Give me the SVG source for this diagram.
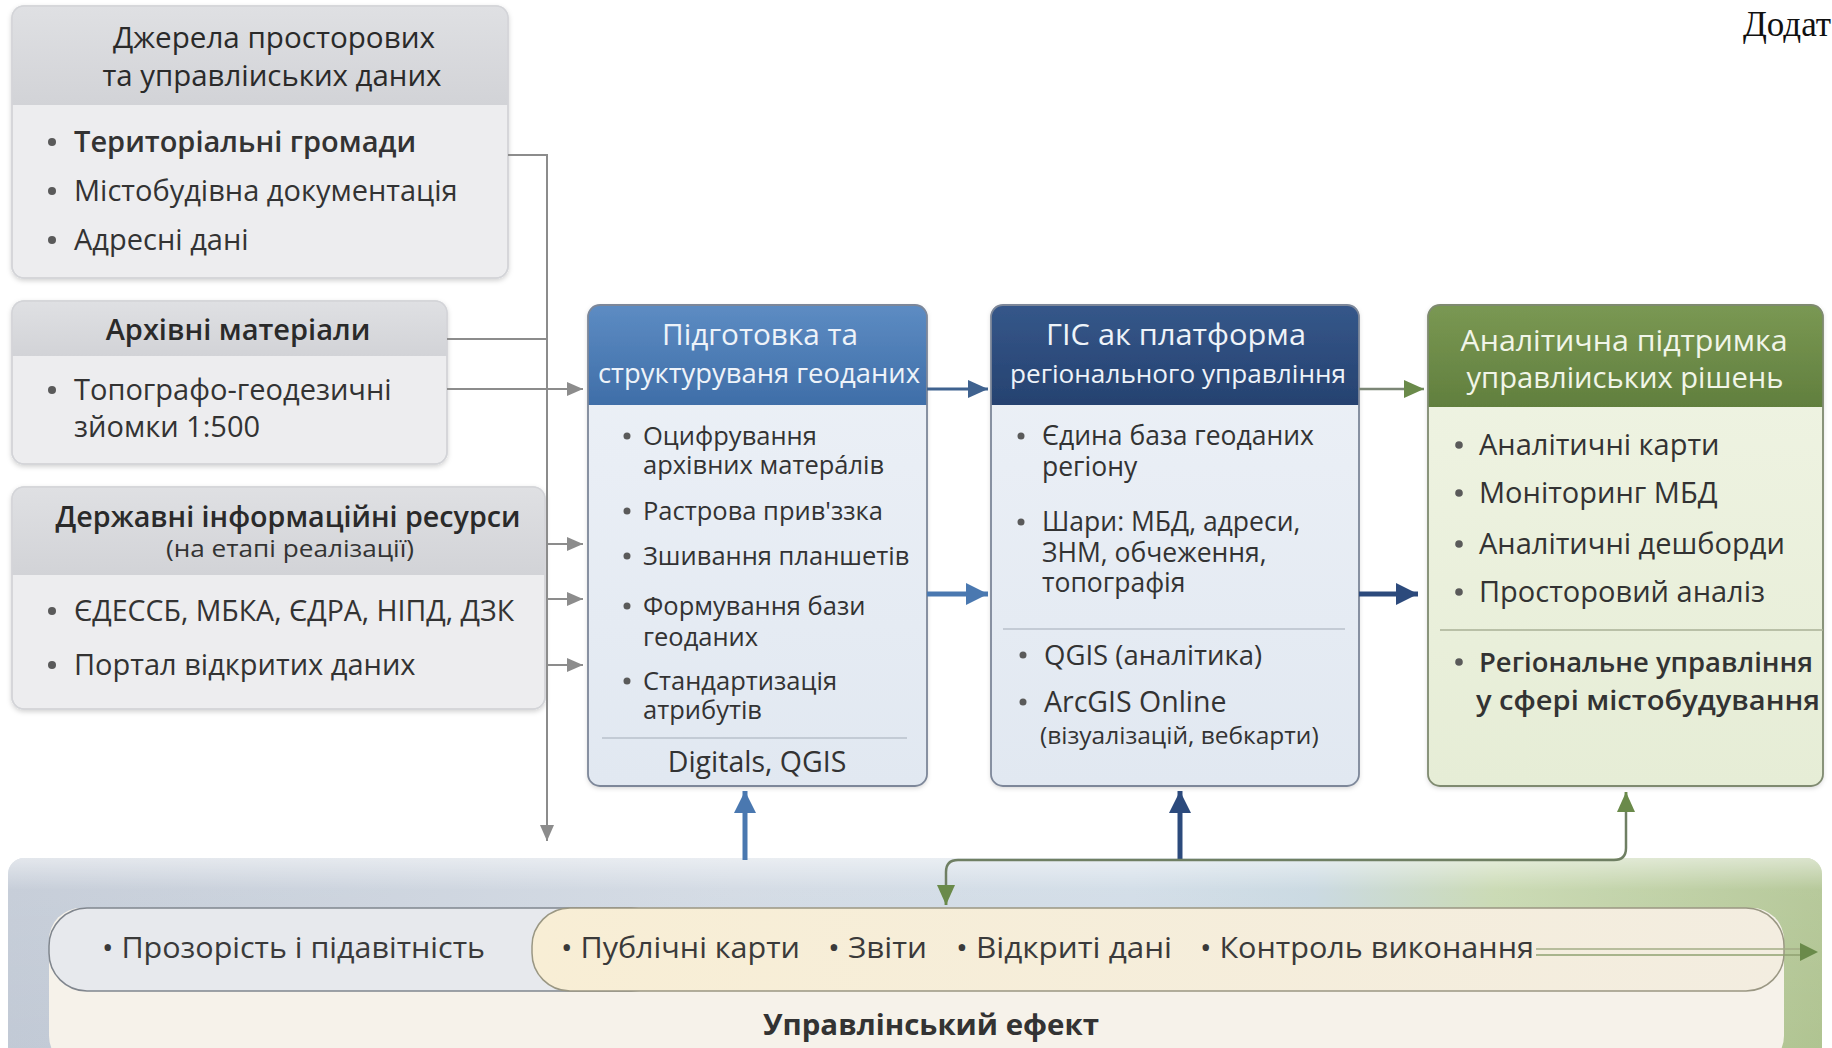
<svg xmlns="http://www.w3.org/2000/svg" width="1832" height="1048" viewBox="0 0 1832 1048">
<defs>
<style>
text{font-family:"Open Sans","Noto Sans",sans-serif;fill:#333;}
.t29{font-size:29px;}
.tc{font-size:25.5px;}
.tg{font-size:26.5px;}
.ta{font-size:29px;}
.hd{fill:#eef3f9;text-anchor:middle;}
.gt{font-size:29px;text-anchor:middle;fill:#2a2a2a;}
.sb{font-weight:600;}
.pill{font-size:30px;fill:#3a3a3a;}
.dot{fill:#5a5a5a;}
.gbox{fill:#ededef;stroke:#d6d7da;stroke-width:1.5;}
.gout{fill:none;stroke:#d3d4d8;stroke-width:1.5;}
.cout{fill:none;stroke:#7d8799;stroke-width:1.8;}
.gline{fill:none;stroke:#8c8c8c;stroke-width:2;}
.sep{stroke:#b9c0cb;stroke-width:1.5;}
</style>
<filter id="sh" x="-5%" y="-5%" width="110%" height="115%">
<feDropShadow dx="0" dy="2" stdDeviation="2.5" flood-color="#000" flood-opacity="0.18"/>
</filter>
<linearGradient id="gHead" x1="0" y1="0" x2="0" y2="1"><stop offset="0" stop-color="#dfe0e3"/><stop offset="1" stop-color="#d2d3d7"/></linearGradient>
<linearGradient id="bHead" x1="0" y1="0" x2="0" y2="1"><stop offset="0" stop-color="#5d8cc3"/><stop offset="1" stop-color="#3f6ea8"/></linearGradient>
<linearGradient id="nHead" x1="0" y1="0" x2="0" y2="1"><stop offset="0" stop-color="#35578a"/><stop offset="1" stop-color="#264270"/></linearGradient>
<linearGradient id="vHead" x1="0" y1="0" x2="0" y2="1"><stop offset="0" stop-color="#7a9853"/><stop offset="1" stop-color="#617f3e"/></linearGradient>
<linearGradient id="bBody" x1="0" y1="0" x2="0" y2="1"><stop offset="0" stop-color="#edf1f7"/><stop offset="1" stop-color="#e1e8f1"/></linearGradient>
<linearGradient id="vBody" x1="0" y1="0" x2="0" y2="1"><stop offset="0" stop-color="#f0f4e4"/><stop offset="1" stop-color="#e6edd6"/></linearGradient>
<linearGradient id="band" x1="0" y1="0" x2="1" y2="0">
<stop offset="0" stop-color="#c1c9d5"/><stop offset="0.4" stop-color="#d0d8e2"/><stop offset="0.62" stop-color="#cfdbe6"/><stop offset="0.72" stop-color="#c6d6df"/><stop offset="0.82" stop-color="#c6d7ae"/><stop offset="1" stop-color="#afc390"/>
</linearGradient>
<linearGradient id="bandTop" x1="0" y1="0" x2="0" y2="1"><stop offset="0" stop-color="#fff" stop-opacity="0.55"/><stop offset="0.15" stop-color="#fff" stop-opacity="0.1"/><stop offset="1" stop-color="#fff" stop-opacity="0"/></linearGradient>
<linearGradient id="cream" x1="0" y1="0" x2="1" y2="0"><stop offset="0" stop-color="#f8eed5"/><stop offset="1" stop-color="#f3ede0"/></linearGradient>
<marker id="aGray" markerUnits="userSpaceOnUse" markerWidth="16" markerHeight="16" viewBox="0 0 16 16" refX="16" refY="8" orient="auto"><path d="M0,1 L16,8 L0,15 Z" fill="#8c8c8c"/></marker>
<marker id="aDark" markerUnits="userSpaceOnUse" markerWidth="20" markerHeight="20" viewBox="0 0 20 20" refX="20" refY="10" orient="auto"><path d="M0,1 L20,10 L0,19 Z" fill="#3f628f"/></marker>
<marker id="aBlue" markerUnits="userSpaceOnUse" markerWidth="22" markerHeight="24" viewBox="0 0 22 24" refX="22" refY="12" orient="auto"><path d="M0,1 L22,12 L0,23 Z" fill="#4a78b0"/></marker>
<marker id="aNavy" markerUnits="userSpaceOnUse" markerWidth="22" markerHeight="24" viewBox="0 0 22 24" refX="22" refY="12" orient="auto"><path d="M0,1 L22,12 L0,23 Z" fill="#2c4a7c"/></marker>
<marker id="aGreen" markerUnits="userSpaceOnUse" markerWidth="20" markerHeight="20" viewBox="0 0 20 20" refX="20" refY="10" orient="auto"><path d="M0,1 L20,10 L0,19 Z" fill="#6a8a4a"/></marker>
</defs>
<rect width="1832" height="1048" fill="#fff"/>

<!-- bottom band -->
<g id="effect">
<rect x="8" y="858" width="1814" height="210" rx="16" fill="url(#band)"/>
<rect x="8" y="858" width="1814" height="210" rx="16" fill="url(#bandTop)"/>
<rect x="49" y="908" width="1735" height="160" rx="32" fill="#f6f2ea"/>
<rect x="49" y="908" width="620" height="83" rx="38" fill="#e7e9ed" stroke="#80868e" stroke-width="1.5"/>
<rect x="532" y="908" width="1252" height="83" rx="38" fill="url(#cream)" stroke="#9a9783" stroke-width="1.5"/>
<text class="pill" x="102" y="958" textLength="383" lengthAdjust="spacingAndGlyphs">• Прозорість і підавітність</text>
<text class="pill" x="561" y="958" textLength="239" lengthAdjust="spacingAndGlyphs">• Публічні карти</text>
<text class="pill" x="828" y="958" textLength="99" lengthAdjust="spacingAndGlyphs">• Звіти</text>
<text class="pill" x="956" y="958" textLength="216" lengthAdjust="spacingAndGlyphs">• Відкриті дані</text>
<text class="pill" x="1200" y="958" textLength="334" lengthAdjust="spacingAndGlyphs">• Контроль виконання</text>
<text x="931" y="1035" font-size="29" font-weight="700" text-anchor="middle" fill="#333" textLength="336" lengthAdjust="spacingAndGlyphs">Управлінський ефект</text>
</g>

<!-- left source boxes -->
<g id="src1">
<g filter="url(#sh)">
<rect class="gbox" x="12" y="6" width="496" height="272" rx="12"/>
<path d="M12,105 V18 Q12,6 24,6 H496 Q508,6 508,18 V105 Z" fill="url(#gHead)"/>
</g>
<rect class="gout" x="12" y="6" width="496" height="272" rx="12"/>
<text class="gt" x="274" y="48" font-weight="500" textLength="322" lengthAdjust="spacingAndGlyphs">Джерела просторових</text>
<text class="gt" x="272" y="86" font-weight="500" textLength="339" lengthAdjust="spacingAndGlyphs">та управліиських даних</text>
<circle class="dot" cx="52" cy="142" r="4"/><text class="t29 sb" x="74" y="152">Територіальні громади</text>
<circle class="dot" cx="52" cy="191" r="4"/><text class="t29" x="74" y="201">Містобудівна документація</text>
<circle class="dot" cx="52" cy="240" r="4"/><text class="t29" x="74" y="250">Адресні дані</text>
</g>

<g id="src2">
<g filter="url(#sh)">
<rect class="gbox" x="12" y="301" width="435" height="163" rx="12"/>
<path d="M12,356 V313 Q12,301 24,301 H435 Q447,301 447,313 V356 Z" fill="url(#gHead)"/>
</g>
<rect class="gout" x="12" y="301" width="435" height="163" rx="12"/>
<text class="gt sb" x="238" y="340">Архівні матеріали</text>
<circle class="dot" cx="52" cy="390" r="4"/><text class="t29" x="74" y="400">Топографо-геодезичні</text>
<text class="t29" x="74" y="437">зйомки 1:500</text>
</g>

<g id="src3">
<g filter="url(#sh)">
<rect class="gbox" x="12" y="487" width="533" height="222" rx="12"/>
<path d="M12,575 V499 Q12,487 24,487 H533 Q545,487 545,499 V575 Z" fill="url(#gHead)"/>
</g>
<rect class="gout" x="12" y="487" width="533" height="222" rx="12"/>
<text class="gt sb" x="288" y="527" textLength="465" lengthAdjust="spacingAndGlyphs">Державні інформаційні ресурси</text>
<text x="290" y="557" font-size="24" text-anchor="middle" fill="#444" textLength="248" lengthAdjust="spacingAndGlyphs">(на етапі реалізації)</text>
<circle class="dot" cx="52" cy="611" r="4"/><text x="74" y="621" font-size="28.5">ЄДЕССБ, МБКА, ЄДРА, НІПД, ДЗК</text>
<circle class="dot" cx="52" cy="665" r="4"/><text class="t29" x="74" y="675">Портал відкритих даних</text>
</g>

<!-- process boxes -->
<g id="prep">
<g filter="url(#sh)">
<rect x="588" y="305" width="339" height="481" rx="12" fill="url(#bBody)"/>
<path d="M588,405 V317 Q588,305 600,305 H915 Q927,305 927,317 V405 Z" fill="url(#bHead)"/>
</g>
<rect class="cout" x="588" y="305" width="339" height="481" rx="12"/>
<text class="hd" x="760" y="345" font-size="29" textLength="196" lengthAdjust="spacingAndGlyphs">Підготовка та</text>
<text class="hd" x="759" y="383" font-size="26.5" textLength="322" lengthAdjust="spacingAndGlyphs">структуруваня геоданих</text>
<circle class="dot" cx="627" cy="436" r="3.5"/><text class="tc" x="643" y="445">Оцифрування</text>
<text class="tc" x="643" y="474">архівних матерáлів</text>
<circle class="dot" cx="627" cy="511" r="3.5"/><text class="tc" x="643" y="520">Растрова прив'ззка</text>
<circle class="dot" cx="627" cy="556" r="3.5"/><text class="tc" x="643" y="565">Зшивання планшетів</text>
<circle class="dot" cx="627" cy="606" r="3.5"/><text class="tc" x="643" y="615">Формування бази</text>
<text class="tc" x="643" y="646">геоданих</text>
<circle class="dot" cx="627" cy="681" r="3.5"/><text class="tc" x="643" y="690">Стандартизація</text>
<text class="tc" x="643" y="719">атрибутів</text>
<line class="sep" x1="602" y1="738" x2="907" y2="738"/>
<text x="757" y="772" font-size="28.5" text-anchor="middle">Digitals, QGIS</text>
</g>

<g id="gis">
<g filter="url(#sh)">
<rect x="991" y="305" width="368" height="481" rx="12" fill="url(#bBody)"/>
<path d="M991,405 V317 Q991,305 1003,305 H1347 Q1359,305 1359,317 V405 Z" fill="url(#nHead)"/>
</g>
<rect class="cout" x="991" y="305" width="368" height="481" rx="12"/>
<text class="hd" x="1176" y="345" font-size="29.5" textLength="260" lengthAdjust="spacingAndGlyphs">ГІС ак платформа</text>
<text class="hd" x="1178" y="383" font-size="26" textLength="336" lengthAdjust="spacingAndGlyphs">регіонального управління</text>
<circle class="dot" cx="1021" cy="436" r="3.5"/><text class="tg" x="1042" y="445">Єдина база геоданих</text>
<text class="tg" x="1042" y="476">регіону</text>
<circle class="dot" cx="1021" cy="522" r="3.5"/><text class="tg" x="1042" y="531">Шари: МБД, адреси,</text>
<text class="tg" x="1042" y="562">ЗНМ, обчеження,</text>
<text class="tg" x="1042" y="592">топографія</text>
<line class="sep" x1="1003" y1="629" x2="1345" y2="629"/>
<circle class="dot" cx="1023" cy="655" r="3.5"/><text x="1044" y="665" font-size="27.5">QGIS (аналітика)</text>
<circle class="dot" cx="1023" cy="702" r="3.5"/><text x="1044" y="712" font-size="28.5">ArcGIS Online</text>
<text x="1040" y="744" font-size="24.5">(візуалізацій, вебкарти)</text>
</g>

<g id="analytics">
<g filter="url(#sh)">
<rect x="1428" y="305" width="395" height="481" rx="12" fill="url(#vBody)"/>
<path d="M1428,407 V317 Q1428,305 1440,305 H1811 Q1823,305 1823,317 V407 Z" fill="url(#vHead)"/>
</g>
<rect x="1428" y="305" width="395" height="481" rx="12" fill="none" stroke="#7f8a70" stroke-width="1.8"/>
<text class="hd" x="1624" y="351" font-size="30" fill="#f1f5e8" style="fill:#f1f5e8" textLength="327" lengthAdjust="spacingAndGlyphs">Аналітична підтримка</text>
<text class="hd" x="1625" y="388" font-size="30" fill="#f1f5e8" style="fill:#f1f5e8" textLength="317" lengthAdjust="spacingAndGlyphs">управліиських рішень</text>
<circle class="dot" cx="1459" cy="445" r="3.8"/><text class="ta" x="1479" y="455">Аналітичні карти</text>
<circle class="dot" cx="1459" cy="493" r="3.8"/><text class="ta" x="1479" y="503">Моніторинг МБД</text>
<circle class="dot" cx="1459" cy="544" r="3.8"/><text class="ta" x="1479" y="554">Аналітичні дешборди</text>
<circle class="dot" cx="1459" cy="592" r="3.8"/><text class="ta" x="1479" y="602">Просторовий аналіз</text>
<line x1="1440" y1="630" x2="1823" y2="630" stroke="#a9b196" stroke-width="1.5"/>
<circle class="dot" cx="1459" cy="662" r="3.8"/><text class="sb" x="1479" y="672" font-size="26.5" textLength="334" lengthAdjust="spacingAndGlyphs">Регіональне управління</text>
<text class="sb" x="1476" y="710" font-size="26.5" textLength="344" lengthAdjust="spacingAndGlyphs">у сфері містобудування</text>
</g>

<text x="1743" y="36" font-size="35" style="font-family:'Liberation Serif',serif;fill:#111">Додат</text>

<!-- connectors -->
<g id="connectors">
<path class="gline" d="M508,155 H547 V841" marker-end="url(#aGray)"/>
<path class="gline" d="M447,339 H547"/>
<path class="gline" d="M447,389 H583" marker-end="url(#aGray)"/>
<path class="gline" d="M547,544 H583" marker-end="url(#aGray)"/>
<path class="gline" d="M547,599 H583" marker-end="url(#aGray)"/>
<path class="gline" d="M547,665 H583" marker-end="url(#aGray)"/>
<path d="M927,389 H988" fill="none" stroke="#3f628f" stroke-width="3" marker-end="url(#aDark)"/>
<path d="M927,594 H988" fill="none" stroke="#4a78b0" stroke-width="5" marker-end="url(#aBlue)"/>
<path d="M1359,389 H1424" fill="none" stroke="#7b8676" stroke-width="2.5" marker-end="url(#aGreen)"/>
<path d="M1359,594 H1418" fill="none" stroke="#2c4a7c" stroke-width="5" marker-end="url(#aNavy)"/>
<path d="M745,860 V791" fill="none" stroke="#4a78b0" stroke-width="5" marker-end="url(#aBlue)"/>
<path d="M1180,860 V791" fill="none" stroke="#2c4a7c" stroke-width="5" marker-end="url(#aNavy)"/>
<path d="M1626,792 V848 Q1626,860 1614,860 H958 Q946,860 946,872 V905" fill="none" stroke="#6f7f63" stroke-width="2.5"/>
<path d="M1626,806 V792" fill="none" stroke="#6a8a4a" stroke-width="2.5" marker-end="url(#aGreen)"/>
<path d="M946,890 V905" fill="none" stroke="#6a8a4a" stroke-width="2.5" marker-end="url(#aGreen)"/>
<line x1="1536" y1="949" x2="1804" y2="949" stroke="#a3ad86" stroke-width="1.6"/>
<line x1="1536" y1="955" x2="1804" y2="955" stroke="#8fa070" stroke-width="1.6"/>
<path d="M1800,943 L1818,952 L1800,961 Z" fill="#6a8a4a"/>
</g>
</svg>
